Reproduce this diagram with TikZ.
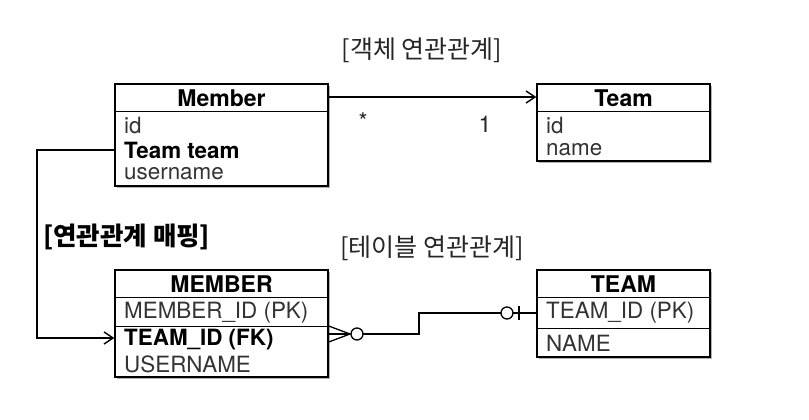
\documentclass[tikz,border=0pt]{standalone}
\usepackage{fontspec}
\setmainfont{TeX Gyre Heros}
\newfontfamily\kr{Noto Sans CJK KR}
\usetikzlibrary{arrows.meta,shadows}
\tikzset{
  entity/.style={draw=black, line width=1.4pt, fill=white, rectangle, inner sep=0pt,
    drop shadow={shadow xshift=1.6pt, shadow yshift=-1.6pt, fill=black, opacity=0.3}},
  sep/.style={line width=1.3pt},
  head/.style={font=\fontsize{23}{26}\selectfont\bfseries, inner sep=0pt, anchor=center},
  item/.style={font=\fontsize{22.4}{26}\selectfont, text=black!80, inner sep=0pt, anchor=west},
  bitem/.style={item, font=\fontsize{22.4}{26}\selectfont\bfseries, text=black},
  title/.style={font=\kr\fontsize{25}{28}\selectfont, text=black!85, inner sep=0pt},
  conn/.style={line width=1.3pt},
  arr/.style={conn, -{Straight Barb[length=9pt,width=12pt,line width=1.4pt]}},
  mult/.style={font=\fontsize{23}{26}\selectfont, text=black!85, inner sep=0pt}
}
\begin{document}
\begin{tikzpicture}[x=1pt,y=-1pt]
\useasboundingbox[fill=white] (0,0) rectangle (809,420);

% titles
\node[title] (t1) at (422,50) {[객체 연관관계]};
\node[title] (t2) at (432,248) {[테이블 연관관계]};
\node[title, font=\kr\fontsize{25.5}{28}\selectfont\bfseries, text=black, anchor=west] (t3) at (43,237) {[연관관계 매핑]};

% Member (object)
\node[entity, minimum width=213pt, minimum height=102pt] (member) at (221.5,135) {};
\draw[sep] ([yshift=-28pt]member.north west) -- ([yshift=-28pt]member.north east);
\node[head] (memberh) at (221.5,98) {Member};
\node[item] (mid) at (124,126) {id};
\node[bitem] (mteam) at (124,150) {Team team};
\node[item] (muser) at (124,174) {username};

% Team (object)
\node[entity, minimum width=173pt, minimum height=77pt] (team) at (623.5,122.5) {};
\draw[sep] ([yshift=-28pt]team.north west) -- ([yshift=-28pt]team.north east);
\node[head] (teamh) at (623.5,98) {Team};
\node[item] (tid) at (546,126) {id};
\node[item] (tname) at (546,150) {name};

% MEMBER (table)
\node[entity, minimum width=213pt, minimum height=107pt] (MEM) at (221.5,323.5) {};
\draw[sep] ([yshift=-28pt]MEM.north west) -- ([yshift=-28pt]MEM.north east);
\draw[sep] ([yshift=-57pt]MEM.north west) -- ([yshift=-57pt]MEM.north east);
\node[head] (MEMh) at (221.5,284) {MEMBER};
\node[item] (MEMid) at (124,313) {MEMBER\_ID (PK)};
\node[bitem] (MEMteam) at (124,340) {TEAM\_ID (FK)};
\node[item] (MEMuser) at (124,364) {USERNAME};

% TEAM (table)
\node[entity, minimum width=173pt, minimum height=87pt] (TEA) at (623.5,313.5) {};
\draw[sep] ([yshift=-28pt]TEA.north west) -- ([yshift=-28pt]TEA.north east);
\draw[sep] ([yshift=-59pt]TEA.north west) -- ([yshift=-59pt]TEA.north east);
\node[head] (TEAh) at (623.5,284) {TEAM};
\node[item] (TEAid) at (546,313) {TEAM\_ID (PK)};
\node[item] (TEAname) at (546,343) {NAME};

% object association
\draw[arr] (member.east |- 0,97) -- (team.west |- 0,97);
\node[mult] (star) at (363,121) {*};
\node[mult] (one) at (485,124) {1};

% mapping connector
\coordinate (c1) at (37,150);
\coordinate (c2) at (37,338);
\draw[arr] (member.west |- c1) -- (c1) -- (c2) -- (MEM.west |- c2);

% crow's foot relationship
\coordinate (cfp) at (350,334);
\coordinate (oc1) at (357,334);
\coordinate (oc2) at (507,313);
\coordinate (bend1) at (419,334);
\coordinate (bend2) at (419,313);
\draw[conn] (MEM.east |- 0,326) -- (cfp) -- (MEM.east |- 0,342);
\draw[conn] (MEM.east |- 0,334) -- (cfp);
\draw[conn] (oc1) circle[radius=6pt];
\draw[conn] ([xshift=6pt]oc1) -- (bend1) -- (bend2) -- ([xshift=-6pt]oc2);
\draw[conn] (oc2) circle[radius=6pt];
\draw[conn] ([xshift=6pt]oc2) -- (TEA.west |- oc2);
\draw[conn] (519,306) -- (519,320);
\end{tikzpicture}
\end{document}
